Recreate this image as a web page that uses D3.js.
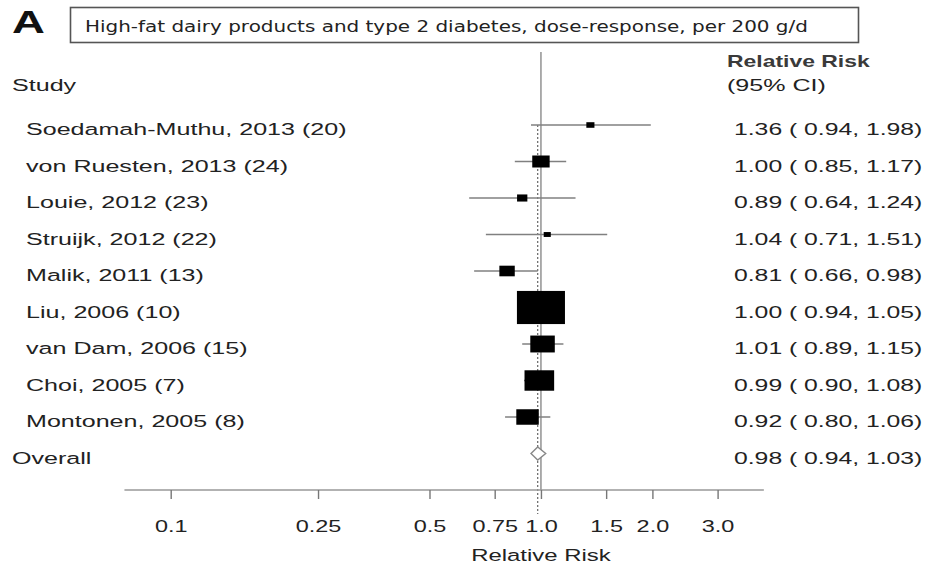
<!DOCTYPE html>
<html>
<head>
<meta charset="utf-8">
<script src="https://cdn.jsdelivr.net/npm/d3@7"></script>
<style>
  html, body { margin: 0; padding: 0; background: #fff; }
  svg { display: block; }
</style>
</head>
<body>
<svg id="chart" width="927" height="569"></svg>
<script>
// Study-level dose-response estimates, per 200 g/d of high-fat dairy
const studies = [
  "Soedamah-Muthu, 2013 (20)",
  "von Ruesten, 2013 (24)",
  "Louie, 2012 (23)",
  "Struijk, 2012 (22)",
  "Malik, 2011 (13)",
  "Liu, 2006 (10)",
  "van Dam, 2006 (15)",
  "Choi, 2005 (7)",
  "Montonen, 2005 (8)"
];
const rr      = [1.36, 1.00, 0.89, 1.04, 0.81, 1.00, 1.01, 0.99, 0.92];
const ciLow   = [0.94, 0.85, 0.64, 0.71, 0.66, 0.94, 0.89, 0.90, 0.80];
const ciHigh  = [1.98, 1.17, 1.24, 1.51, 0.98, 1.05, 1.15, 1.08, 1.06];
const weights = [1.3, 6.0, 2.1, 1.0, 4.7, 45.7, 11.9, 17.4, 10.0]; // % weight

const overallRR   = 0.98;
const overallLow  = 0.94;
const overallHigh = 1.03;

const tickValues = [0.1, 0.25, 0.5, 0.75, 1.0, 1.5, 2.0, 3.0];
const tickLabels = ["0.1", "0.25", "0.5", "0.75", "1.0", "1.5", "2.0", "3.0"];

const panelLabel = "A";
const title = "High-fat dairy products and type 2 diabetes, dose-response, per 200 g/d";

// ---- layout ----
const SX = 1.52;               // horizontal stretch applied to text
const FONT = "'Liberation Sans', Arial, Helvetica, sans-serif";
const TEXT = "#222";
const fmt = d3.format(".2f");

const svg = d3.select("#chart");

const x = d3.scaleLog().domain([0.1, 3]).range([170.7, 717.6]);
const y = d3.scaleLinear().domain([0, 9]).range([125, 453.5]);
const axisY = 490;

// stretched text helper
function label(g, str, px, py, opts = {}) {
  return g.append("text")
    .attr("transform", `translate(${px},${py}) scale(${opts.sx || SX},1)`)
    .attr("text-anchor", opts.anchor || "start")
    .attr("font-family", opts.family || FONT)
    .attr("font-size", opts.size || 16.5)
    .attr("font-weight", opts.weight || "normal")
    .attr("fill", opts.fill || TEXT)
    .text(str);
}

// ---- header ----
label(svg, panelLabel, 12, 33, { size: 31, weight: "bold", fill: "#111", sx: 1.47 });
svg.append("rect")
  .attr("x", 70.5).attr("y", 7.5)
  .attr("width", 788).attr("height", 35)
  .attr("fill", "none").attr("stroke", "#555").attr("stroke-width", 1.6);
label(svg, title, 85, 32, { family: "'DejaVu Sans', Verdana, sans-serif", size: 16.5, sx: 1.21 });

label(svg, "Study", 12, 91);
label(svg, "Relative Risk", 727, 67, { weight: "bold", fill: "#3a3a3a", size: 16.5, sx: 1.39 });
label(svg, "(95% CI)", 727, 91);

// ---- reference lines ----
svg.append("line")
  .attr("x1", x(1)).attr("x2", x(1))
  .attr("y1", 52).attr("y2", axisY)
  .attr("stroke", "#8a8a8a").attr("stroke-width", 1.4);

svg.append("line")
  .attr("x1", x(overallRR)).attr("x2", x(overallRR))
  .attr("y1", y(0)).attr("y2", axisY + 24)
  .attr("stroke", "#666").attr("stroke-width", 1.2)
  .attr("stroke-dasharray", "2,2");

// ---- study rows ----
const rows = studies.map((s, i) => ({
  name: s, rr: rr[i], lo: ciLow[i], hi: ciHigh[i], w: weights[i], i
}));

const rowG = svg.append("g").selectAll("g").data(rows).join("g");

rowG.append("line")
  .attr("x1", d => x(d.lo)).attr("x2", d => x(d.hi))
  .attr("y1", d => y(d.i)).attr("y2", d => y(d.i))
  .attr("stroke", "#808080").attr("stroke-width", 1.5);

const boxH = w => 4.9 * Math.sqrt(w);
const boxW = w => boxH(w) * 1.45;
rowG.append("rect")
  .attr("x", d => x(d.rr) - boxW(d.w) / 2)
  .attr("y", d => y(d.i) - boxH(d.w) / 2)
  .attr("width", d => boxW(d.w))
  .attr("height", d => boxH(d.w))
  .attr("fill", "#000");

rowG.each(function (d) {
  const g = d3.select(this);
  label(g, d.name, 26, y(d.i) + 10);
  label(g, `${fmt(d.rr)} ( ${fmt(d.lo)}, ${fmt(d.hi)})`, 734, y(d.i) + 10, { sx: 1.5 });
});

// ---- overall ----
const oy = y(9);
const dh = 6.5;
svg.append("path")
  .attr("d", `M${x(overallLow)},${oy} L${x(overallRR)},${oy - dh} L${x(overallHigh)},${oy} L${x(overallRR)},${oy + dh} Z`)
  .attr("fill", "#fff").attr("stroke", "#888").attr("stroke-width", 1.4);
label(svg, "Overall", 12, oy + 10);
label(svg, `${fmt(overallRR)} ( ${fmt(overallLow)}, ${fmt(overallHigh)})`, 734, oy + 10, { sx: 1.5 });

// ---- x axis ----
svg.append("line")
  .attr("x1", x(0.075)).attr("x2", x(4))
  .attr("y1", axisY).attr("y2", axisY)
  .attr("stroke", "#999").attr("stroke-width", 1.5);

const axis = d3.axisBottom(x)
  .tickValues(tickValues)
  .tickFormat((d, i) => tickLabels[i])
  .tickSize(9);

const ax = svg.append("g").attr("transform", `translate(0,${axisY})`).call(axis);
ax.select(".domain").remove();
ax.selectAll(".tick line").attr("stroke", "#777").attr("stroke-width", 1.4);
ax.selectAll(".tick text")
  .attr("y", 42).attr("dy", 0)
  .attr("transform", `scale(1.42,1)`)
  .attr("font-family", FONT).attr("font-size", 16.5)
  .attr("fill", TEXT);

label(svg, "Relative Risk", x(1), 561, { anchor: "middle", sx: 1.45 });
</script>
</body>
</html>
